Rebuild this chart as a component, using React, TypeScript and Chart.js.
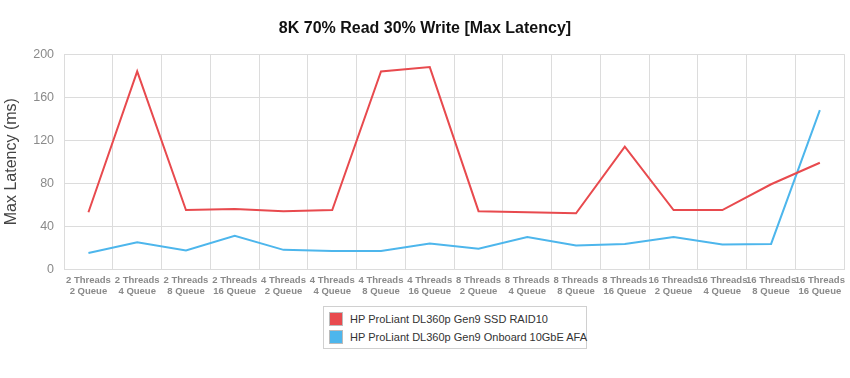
import React, { useEffect, useRef } from "react";
import { Chart, registerables } from "chart.js";

Chart.register(...registerables);

const categories: string[][] = [
  ["2 Threads", "2 Queue"], ["2 Threads", "4 Queue"], ["2 Threads", "8 Queue"], ["2 Threads", "16 Queue"],
  ["4 Threads", "2 Queue"], ["4 Threads", "4 Queue"], ["4 Threads", "8 Queue"], ["4 Threads", "16 Queue"],
  ["8 Threads", "2 Queue"], ["8 Threads", "4 Queue"], ["8 Threads", "8 Queue"], ["8 Threads", "16 Queue"],
  ["16 Threads", "2 Queue"], ["16 Threads", "4 Queue"], ["16 Threads", "8 Queue"], ["16 Threads", "16 Queue"],
];
const raid10: number[] = [53, 184, 55, 56, 54, 55, 184, 188, 54, 53, 52, 114, 55, 55, 79, 99];
const afa: number[] = [15, 25, 17.5, 31, 18, 17, 17, 24, 19, 30, 22, 23.5, 30, 23, 23.5, 148];
const seriesNames = ["HP ProLiant DL360p Gen9 SSD RAID10", "HP ProLiant DL360p Gen9 Onboard 10GbE AFA"];
const colors = ["rgb(232,74,78)", "rgb(77,182,236)"];
const FONT = "'Liberation Sans', Arial, Helvetica, sans-serif";

export default function App() {
  const ref = useRef<HTMLCanvasElement>(null);
  useEffect(() => {
    document.body.style.margin = "0";
    const chart = new Chart(ref.current!, {
      type: "line",
      data: {
        labels: categories,
        datasets: [
          { label: seriesNames[0], data: raid10, borderColor: colors[0], backgroundColor: colors[0], borderWidth: 2, pointRadius: 0, tension: 0 },
          { label: seriesNames[1], data: afa, borderColor: colors[1], backgroundColor: colors[1], borderWidth: 2, pointRadius: 0, tension: 0 },
        ],
      },
      options: {
        animation: false,
        responsive: false,
        layout: { padding: { left: 2, right: 2, top: 0, bottom: 0 } },
        plugins: {
          legend: { display: false },
          tooltip: { enabled: false },
          title: {
            display: true,
            text: "8K 70% Read 30% Write [Max Latency]",
            color: "#111",
            font: { family: FONT, size: 16, weight: "bold" },
            padding: { top: 19, bottom: 16 },
          },
        },
        scales: {
          x: {
            offset: true,
            grid: { color: "#dcdcdc", offset: true, drawTicks: false },
            border: { color: "#dcdcdc" },
            ticks: { color: "#8a8a8a", font: { family: FONT, size: 9.5, weight: "bold" }, maxRotation: 0, autoSkip: false, padding: 5 },
          },
          y: {
            min: 0,
            max: 200,
            grid: { color: "#dcdcdc", drawTicks: false },
            border: { color: "#dcdcdc" },
            ticks: { stepSize: 40, color: "#8a8a8a", font: { family: FONT, size: 12.5 }, padding: 10 },
            title: { display: true, text: "Max Latency (ms)", color: "#444", font: { family: FONT, size: 16 }, padding: { top: 0, bottom: 2 } },
          },
        },
      },
    });
    return () => chart.destroy();
  }, []);
  return (
    <div style={{ position: "relative", width: 850, height: 378 }}>
      <canvas ref={ref} width={850} height={302} style={{ display: "block" }} />
      <div
        style={{
          position: "absolute",
          left: 323,
          top: 306,
          width: 264,
          border: "1px solid #d0d0d0",
          padding: "4px 5px",
          boxSizing: "border-box",
          fontFamily: FONT,
          fontSize: 11,
          color: "#333",
        }}
      >
        {seriesNames.map((n, i) => (
          <div key={n} style={{ display: "flex", alignItems: "center", height: 15, marginBottom: i === 0 ? 3 : 0 }}>
            <span style={{ display: "inline-block", flexShrink: 0, width: 12, height: 12, background: colors[i], border: "1px solid #bbb", marginRight: 7 }} />
            <span style={{ whiteSpace: "nowrap" }}>{n}</span>
          </div>
        ))}
      </div>
    </div>
  );
}
